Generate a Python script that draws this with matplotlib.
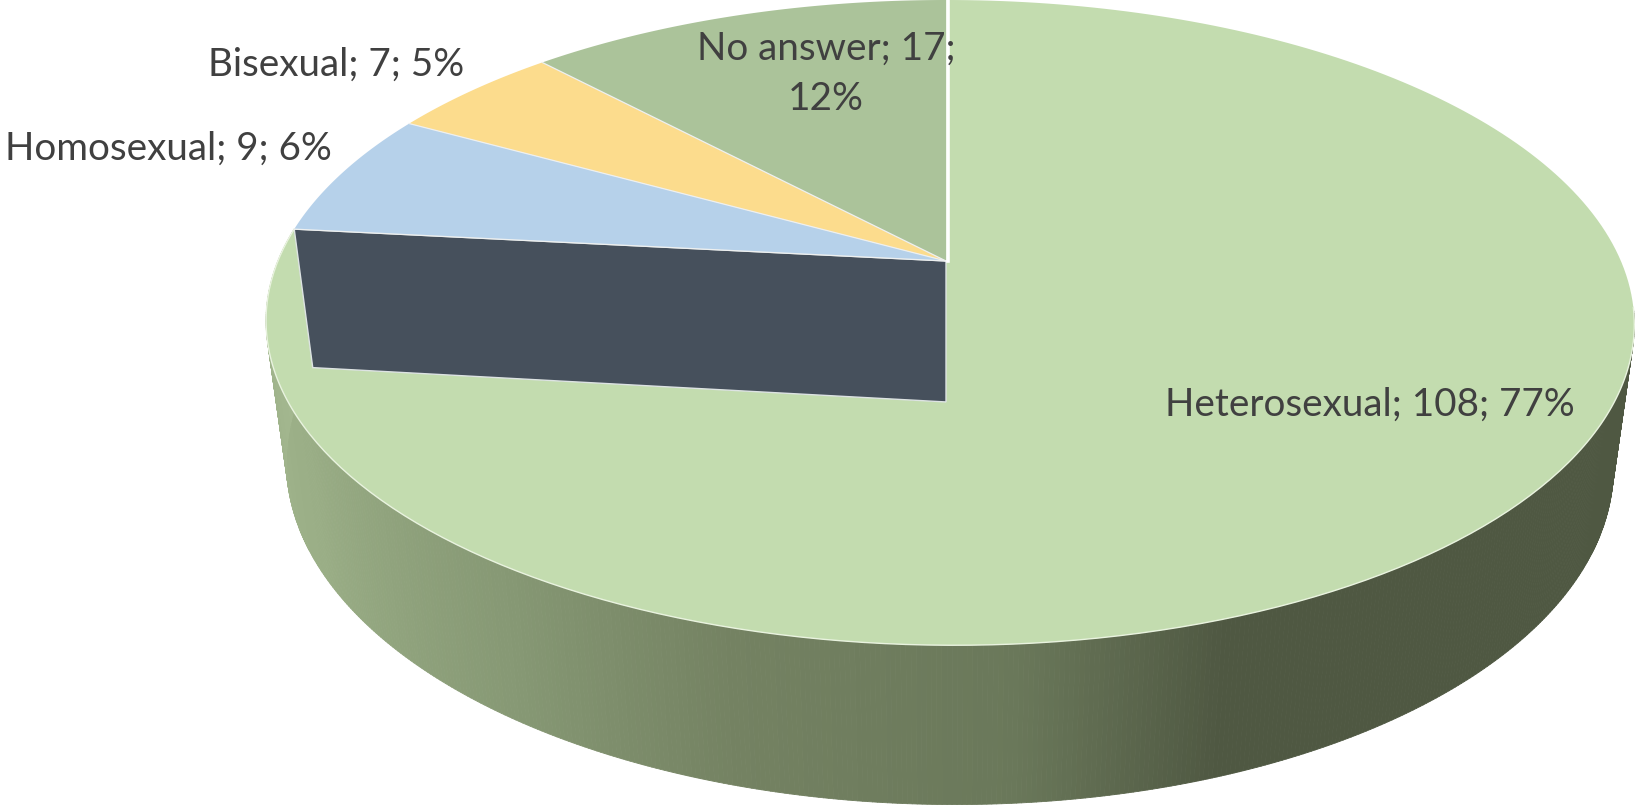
import numpy as np
import matplotlib
matplotlib.use('Agg')
import matplotlib.pyplot as plt
from matplotlib.collections import PolyCollection

categories = ['Heterosexual', 'Homosexual', 'Bisexual', 'No answer']
values = [108, 9, 7, 17]
colors = ['#C3DCAF', '#B6D1EA', '#FCDC8D', '#ABC39A']

# position of the labels in pixels
label_pos = [(1370, 405), (168, 149), (336, 65), (826, 74)]
label_break = [False, False, False, True]

# perspective of the 3d pie, fitted on the picture
cx, cy = 946.0, 261.0
rx = 671.5
tilt = 0.191
skew = -0.006
drop = 153.0
shrink = 0.03

# wall shading, angle from 12 o'clock -> colour
shade_ang = [0, 160, 175, 195, 213, 240, 276]
shade_r = [79, 79, 106, 116, 134, 154, 166]
shade_g = [88, 88, 120, 130, 152, 174, 186]
shade_b = [66, 66, 90, 98, 116, 134, 146]


def project(theta, z=0.0, r=1.0):
	u = r * np.sin(theta)
	v = r * np.cos(theta)
	w = 1 + tilt * v + skew * u + shrink * z
	x = cx + rx * u / w
	y = (cy - cy * v + drop * z) / w
	return np.column_stack([x, y])


def arc(a, b, z=0.0, n=240):
	return project(np.linspace(a, b, n), z)


plt.rcParams['font.family'] = ['Lato', 'DejaVu Sans']
fig = plt.figure(figsize=(16.39, 8.07), dpi=100)
ax = fig.add_axes([0, 0, 1, 1])
ax.set_xlim(0, 1639)
ax.set_ylim(807, 0)
ax.axis('off')

total = sum(values)
edges = np.radians(np.cumsum([0] + values) / total * 360)
apex = project(np.array([0.0]), r=0.0)
apex_low = project(np.array([0.0]), z=1.0, r=0.0)

# outer wall of the big slice, only the part seen from the front
steps = np.linspace(np.radians(98), edges[1], 500)
top = project(steps)
low = project(steps, 1.0)
quads = [[top[i], top[i + 1], low[i + 1], low[i]] for i in range(len(steps) - 1)]
deg = np.degrees(steps[:-1])
wall = np.column_stack([np.interp(deg, shade_ang, shade_r),
	np.interp(deg, shade_ang, shade_g),
	np.interp(deg, shade_ang, shade_b)]) / 255
ax.add_collection(PolyCollection(quads, facecolors=wall, edgecolors=wall, linewidths=0.6))

# big slice on top
big = np.vstack([arc(edges[0], edges[1]), apex])
ax.fill(big[:, 0], big[:, 1], color=colors[0], lw=0)
rim = arc(np.radians(98), edges[1])
ax.plot(rim[:, 0], rim[:, 1], color='#E9F3DF', lw=1.0, solid_capstyle='round')

# inner wall under the small slices
p = project(np.array([edges[1]]))
p_low = project(np.array([edges[1]]), 1.0)
inner = np.vstack([apex, p, p_low, apex_low])
ax.fill(inner[:, 0], inner[:, 1], facecolor='#46505C', edgecolor='#DDE3E3', lw=1.0)

# small slices
for i in range(1, len(values)):
	pts = np.vstack([apex, arc(edges[i], edges[i + 1], n=80)])
	ax.fill(pts[:, 0], pts[:, 1], color=colors[i], lw=0)
	ax.plot(pts[:2, 0], pts[:2, 1], color='#EEF0F0', lw=0.9)

ax.plot([cx + 2, cx + 2], [0, cy], color='white', lw=2.6)

for i in range(len(values)):
	pct = round(values[i] / total * 100)
	sep = ';\n' if label_break[i] else '; '
	txt = f'{categories[i]}; {values[i]}{sep}{pct}%'
	ax.text(label_pos[i][0], label_pos[i][1], txt, ha='center', va='center',
		fontsize=27.8, color='#404040', linespacing=1.5)

fig.savefig('out.png', dpi=100)
